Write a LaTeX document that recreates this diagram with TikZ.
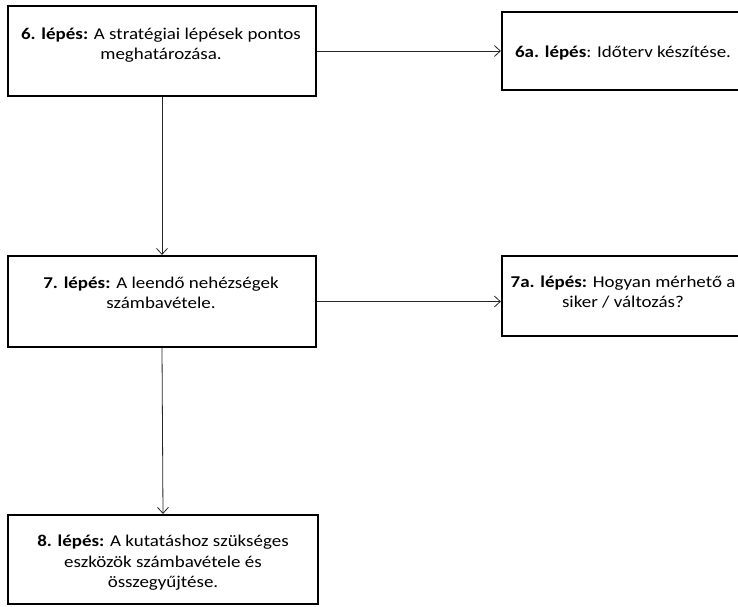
\documentclass[tikz,border=0pt]{standalone}
\usepackage{fontspec}
\setmainfont[FakeStretch=1.15]{Carlito}
\usetikzlibrary{arrows.meta}
\begin{document}
\begin{tikzpicture}[x=1pt,y=-1pt,
  stepbox/.style={draw=black,line width=2.2pt,minimum width=#1,inner sep=0pt,rectangle},
  steptext/.style={align=center,inner sep=0pt,font=\fontsize{16.5}{20.5}\selectfont},
  link/.style={draw=black!85,line width=0.8pt,-{Straight Barb[length=6pt,width=11pt]}}]
\clip (0,0) rectangle (738,606);
\fill[white] (0,0) rectangle (738,606);
% boxes
\node[stepbox=308pt,minimum height=90pt] (b6)  at (162,51) {};
\node[stepbox=243pt,minimum height=78pt] (b6a) at (623.5,51) {};
\node[stepbox=308pt,minimum height=91pt] (b7)  at (162,301.5) {};
\node[stepbox=243pt,minimum height=80pt] (b7a) at (623.5,296) {};
\node[stepbox=310pt,minimum height=89pt] (b8)  at (163,559.5) {};
% texts
\node[steptext] (t6)  at (161,45)  {\textbf{6. lépés:} A stratégiai lépések pontos\\meghatározása.};
\node[steptext] (t6a) at (623,53)    {\textbf{6a. lépés}: Időterv készítése.};
\node[steptext] (t7)  at (161,293) {\textbf{7. lépés:} A leendő nehézségek\\számbavétele.};
\node[steptext] (t7a) at (623,292)   {\textbf{7a. lépés:} Hogyan mérhető a\\siker / változás?};
\node[steptext] (t8)  at (163,563)   {\textbf{8. lépés:} A kutatáshoz szükséges\\eszközök számbavétele és\\összegyűjtése.};
% connectors
\draw[link] (b6.east) -- (b6a.west);
\draw[link] (b7.east) -- (b7a.west |- b7.east);
\draw[link] (b6.south) -- (b7.north);
\draw[link] (b7.south) -- (b8.north);
\end{tikzpicture}
\end{document}
